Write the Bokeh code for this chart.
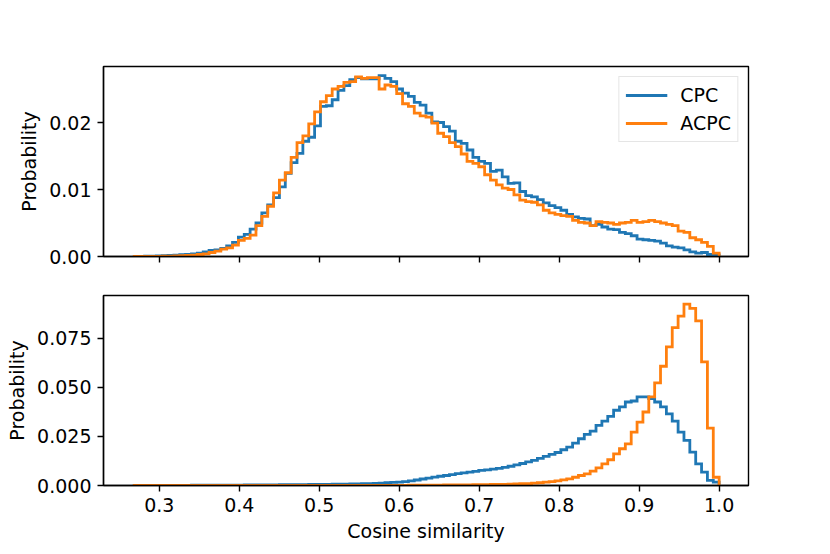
import numpy as np
from bokeh.plotting import figure
from bokeh.layouts import column
from bokeh.models import Range1d, FixedTicker, PrintfTickFormatter, Legend, LegendItem
from bokeh.embed import file_html
from bokeh.resources import INLINE

# ---------------- data ----------------
BIN_MIN = 0.267
BIN_MAX = 1.0
N_BINS = 100

series_names = ["CPC", "ACPC"]
x_ticks = [0.3, 0.4, 0.5, 0.6, 0.7, 0.8, 0.9, 1.0]
top_y_ticks = [0.0, 0.01, 0.02]
bottom_y_ticks = [0.0, 0.025, 0.05, 0.075]
x_label = "Cosine similarity"
y_label = "Probability"

top_cpc = [
    0.0, 0.00002, 0.00004, 0.00006, 0.00009, 0.00012, 0.00016, 0.0002, 0.00026, 0.00033,
    0.0004, 0.0005, 0.0007, 0.0009, 0.0010,
    0.0012, 0.0016, 0.0021, 0.0029, 0.0033, 0.0041, 0.0050, 0.0065, 0.0077, 0.0088,
    0.0104, 0.0124, 0.0140, 0.0154, 0.0172,
    0.0178, 0.0195, 0.0224, 0.0225, 0.0234, 0.0248, 0.0255, 0.0264, 0.0267, 0.0265,
    0.0265, 0.0265, 0.0270, 0.0266, 0.0261,
    0.0250, 0.0244, 0.0239, 0.0230, 0.0226, 0.0214, 0.0201, 0.0200, 0.0194, 0.0187,
    0.0172, 0.0169, 0.0159, 0.0148, 0.0142,
    0.0139, 0.0127, 0.0129, 0.0119, 0.0109, 0.0110, 0.0097, 0.0091, 0.0089, 0.0085,
    0.0080, 0.0076, 0.0073, 0.0069, 0.0063,
    0.0059, 0.0057, 0.0056, 0.0046, 0.0048, 0.0044, 0.0041, 0.0040, 0.0036, 0.0034,
    0.0031, 0.0026, 0.0025, 0.0024, 0.0023,
    0.0020, 0.0016, 0.0014, 0.0013, 0.0010, 0.0007, 0.0005, 0.0006, 0.0003, 0.00025,
]

top_acpc = [
    0.0, 0.0, 0.00001, 0.00002, 0.00003, 0.00005, 0.00007, 0.0001, 0.00013, 0.00017,
    0.00022, 0.0003, 0.0004, 0.0006, 0.0008,
    0.0011, 0.0013, 0.0017, 0.0024, 0.0027, 0.0032, 0.0046, 0.0060, 0.0075, 0.0095,
    0.0114, 0.0125, 0.0148, 0.0170, 0.0180,
    0.0198, 0.0216, 0.0231, 0.0240, 0.0250, 0.0254, 0.0260, 0.0261, 0.0268, 0.0266,
    0.0267, 0.0267, 0.0250, 0.0256, 0.0254,
    0.0243, 0.0228, 0.0224, 0.0214, 0.0210, 0.0208, 0.0199, 0.0184, 0.0179, 0.0170,
    0.0164, 0.0153, 0.0142, 0.0139, 0.0134,
    0.0122, 0.0114, 0.0107, 0.0102, 0.0100, 0.0092, 0.0084, 0.0082, 0.0081, 0.0077,
    0.0069, 0.0065, 0.0063, 0.0061, 0.0060,
    0.0054, 0.0051, 0.0050, 0.0046, 0.0052, 0.0051, 0.0050, 0.0048, 0.0050, 0.0051,
    0.0054, 0.0051, 0.0052, 0.0054, 0.0052,
    0.0050, 0.0048, 0.0046, 0.0038, 0.0036, 0.0028, 0.0025, 0.0021, 0.0015, 0.0005,
]

bottom_cpc = [
    0.0, 0.00002, 0.00003, 0.00004, 0.00005, 0.00006, 0.00007, 0.00008, 0.0001, 0.0001,
    0.00012, 0.00013, 0.00014, 0.00015, 0.00017,
    0.00018, 0.0002, 0.00021, 0.00023, 0.00025, 0.00027, 0.00029, 0.00031, 0.00033, 0.00035,
    0.00037, 0.0004, 0.00042, 0.00045, 0.00048,
    0.0005, 0.00053, 0.00056, 0.0006, 0.00064, 0.00068, 0.00073, 0.00078, 0.00084, 0.0009,
    0.00097, 0.0011, 0.0012, 0.0014, 0.0016,
    0.0017, 0.0020, 0.0024, 0.0028, 0.0033, 0.0038, 0.0043, 0.0047, 0.0051, 0.0055,
    0.0060, 0.0064, 0.0068, 0.0072, 0.0077,
    0.0080, 0.0083, 0.0087, 0.0092, 0.0098, 0.0105, 0.0112, 0.0120, 0.0128, 0.0138,
    0.0148, 0.0158, 0.0168, 0.0182, 0.0195,
    0.0216, 0.0238, 0.0260, 0.0277, 0.0306, 0.0328, 0.0352, 0.0383, 0.0400, 0.0425,
    0.0430, 0.0451, 0.0451, 0.0442, 0.0425,
    0.0400, 0.0365, 0.0328, 0.0272, 0.0230, 0.0170, 0.0110, 0.0068, 0.0026, 0.0017,
]

bottom_acpc = [
    0.0, 0.0, 0.0, 0.0, 0.0, 0.0, 0.0, 0.0, 0.0, 0.0,
    0.0, 0.0, 0.0, 0.0, 0.0,
    0.0, 0.0, 0.0, 0.0, 0.0, 0.00002, 0.00002, 0.00002, 0.00002, 0.00002,
    0.00002, 0.00002, 0.00002, 0.00002, 0.00002,
    0.00002, 0.00002, 0.00002, 0.00002, 0.00002, 0.00005, 0.00005, 0.00005, 0.00005, 0.00005,
    0.00005, 0.00006, 0.00007, 0.00008, 0.00009,
    0.0001, 0.0001, 0.00012, 0.00014, 0.00016, 0.00018, 0.0002, 0.00022, 0.00025, 0.00028,
    0.0003, 0.00033, 0.00036, 0.0004, 0.00043,
    0.00047, 0.0005, 0.00055, 0.0006, 0.0007, 0.0008, 0.0009, 0.0010, 0.0012, 0.0014,
    0.0017, 0.0020, 0.0024, 0.0029, 0.0034,
    0.0042, 0.0051, 0.0059, 0.0073, 0.0090, 0.0110, 0.0131, 0.0161, 0.0187, 0.0212,
    0.0272, 0.0323, 0.0374, 0.0451, 0.0522,
    0.0607, 0.0706, 0.0804, 0.0862, 0.0923, 0.0901, 0.0838, 0.0629, 0.0292, 0.0042,
]

for arr in (top_cpc, top_acpc, bottom_cpc, bottom_acpc):
    assert len(arr) == N_BINS, len(arr)

# ---------------- style ----------------
BLUE = "#1f77b4"
ORANGE = "#ff7f0e"
FONT = "DejaVu Sans"
FS = "19px"
LW = 2.8

edges = np.linspace(BIN_MIN, BIN_MAX, N_BINS + 1)


def step_xy(vals):
    xs = np.repeat(edges, 2)
    ys = np.concatenate([[0.0], np.repeat(np.asarray(vals, dtype=float), 2), [0.0]])
    return xs, ys


x_range = Range1d(0.2303, 1.0367)


def style(p, yfmt, yticks, show_xlabels):
    p.xgrid.visible = False
    p.ygrid.visible = False
    p.outline_line_color = "black"
    p.outline_line_width = 1.4
    p.outline_line_alpha = 1.0
    p.background_fill_color = "white"
    p.border_fill_color = "white"
    for ax in p.axis:
        ax.major_tick_out = 6
        ax.major_tick_in = 0
        ax.minor_tick_out = 0
        ax.minor_tick_in = 0
        ax.major_tick_line_width = 1.4
        ax.major_tick_line_color = "black"
        ax.axis_line_width = 1.4
        ax.axis_line_color = "black"
        ax.major_label_text_font = FONT
        ax.major_label_text_font_size = FS
        ax.major_label_text_color = "black"
        ax.major_label_standoff = 6
        ax.axis_label_text_font = FONT
        ax.axis_label_text_font_size = FS
        ax.axis_label_text_font_style = "normal"
        ax.axis_label_text_color = "black"
    p.xaxis.ticker = FixedTicker(ticks=x_ticks)
    p.xaxis.formatter = PrintfTickFormatter(format="%.1f")
    if not show_xlabels:
        p.xaxis.major_label_overrides = {t: "" for t in x_ticks}
    p.yaxis.ticker = FixedTicker(ticks=yticks)
    p.yaxis.formatter = PrintfTickFormatter(format=yfmt)
    p.yaxis.axis_label = y_label
    p.yaxis.axis_label_standoff = 6


p1 = figure(width=808, height=291, x_range=x_range, y_range=Range1d(0.0, 0.02836),
            output_backend="svg", toolbar_location=None,
            min_border_left=103, min_border_right=60, min_border_top=66, min_border_bottom=35)
style(p1, "%.2f", top_y_ticks, False)

xs, ys = step_xy(top_cpc)
r_cpc = p1.line(xs, ys, line_color=BLUE, line_width=LW, line_join="miter")
xs, ys = step_xy(top_acpc)
r_acpc = p1.line(xs, ys, line_color=ORANGE, line_width=LW, line_join="miter")

legend = Legend(items=[LegendItem(label=series_names[0], renderers=[r_cpc]),
                       LegendItem(label=series_names[1], renderers=[r_acpc])],
                location="top_right")
legend.label_text_font = FONT
legend.label_text_font_size = FS
legend.label_text_color = "black"
legend.glyph_width = 42
legend.glyph_height = 24
legend.label_height = 24
legend.label_standoff = 13
legend.padding = 6
legend.spacing = 4
legend.margin = 10
legend.border_line_color = "#cccccc"
legend.border_line_width = 1
legend.background_fill_alpha = 0.8
p1.add_layout(legend)

p2 = figure(width=808, height=258, x_range=x_range, y_range=Range1d(0.0, 0.0967),
            output_backend="svg", toolbar_location=None,
            min_border_left=103, min_border_right=60, min_border_top=4, min_border_bottom=64)
style(p2, "%.3f", bottom_y_ticks, True)
p2.xaxis.axis_label = x_label
p2.xaxis.axis_label_standoff = 5

xs, ys = step_xy(bottom_cpc)
p2.line(xs, ys, line_color=BLUE, line_width=LW, line_join="miter")
xs, ys = step_xy(bottom_acpc)
p2.line(xs, ys, line_color=ORANGE, line_width=LW, line_join="miter")

layout = column(p1, p2)
open("out.html", "w").write(file_html(layout, INLINE))
